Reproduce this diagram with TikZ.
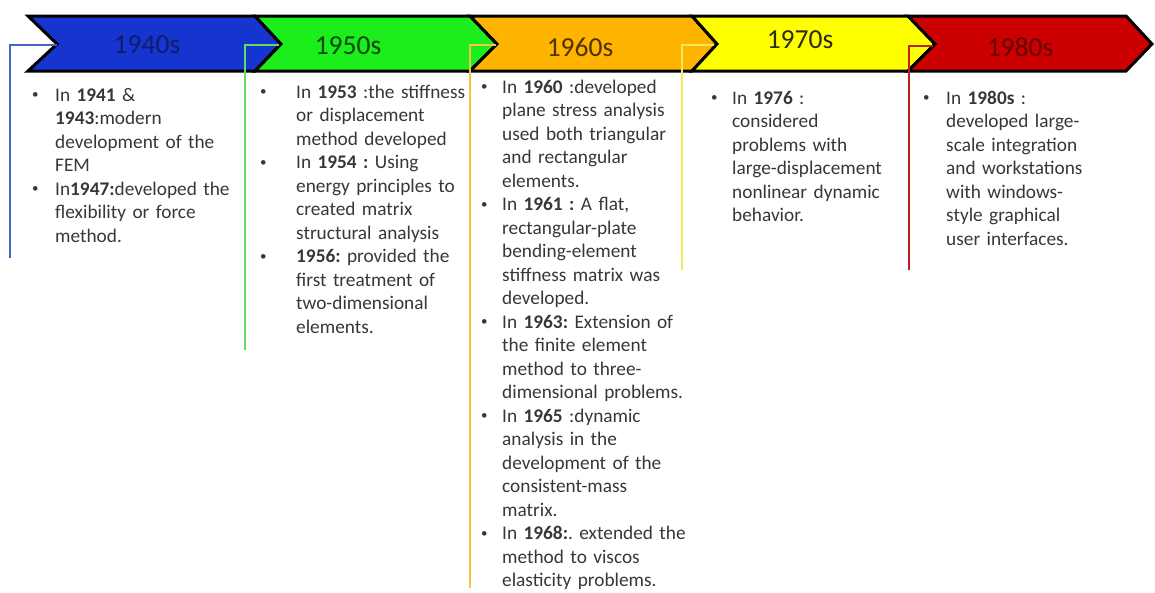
\documentclass[tikz,border=0pt]{standalone}
\usepackage{fontspec}
\setmainfont{Carlito}
\frenchspacing
\definecolor{cblue}{RGB}{22,52,206}
\definecolor{cgreen}{RGB}{28,238,28}
\definecolor{corange}{RGB}{255,180,0}
\definecolor{cyellow}{RGB}{255,255,0}
\definecolor{cred}{RGB}{204,0,0}
\definecolor{lblue}{RGB}{70,100,200}
\definecolor{lgreen}{RGB}{100,220,100}
\definecolor{lorange}{RGB}{245,195,70}
\definecolor{lyellow}{RGB}{240,235,90}
\definecolor{lred}{RGB}{190,30,30}
\definecolor{tblue}{RGB}{16,28,110}
\definecolor{tgreen}{RGB}{10,70,10}
\definecolor{torange}{RGB}{80,50,0}
\definecolor{tyellow}{RGB}{45,45,20}
\definecolor{tred}{RGB}{100,0,0}
\definecolor{bodygray}{RGB}{55,55,55}
\tikzset{
  band/.style={draw=black, line width=3pt, line join=miter},
  head/.style={font=\fontsize{27.5}{33}\selectfont, anchor=center, inner sep=0pt},
  body/.style={font=\frenchspacing\fontsize{19.3}{23.5}\selectfont, text=bodygray, anchor=base west,
               inner sep=0pt, text width=260pt, align=left},
  dot/.style={font=\fontsize{13}{13}\selectfont, text=bodygray, anchor=base west, inner sep=0pt},
  hook/.style={line width=2pt},
}
\newcommand{\bul}{\raisebox{2.2pt}{\textbullet}}
\begin{document}
\begin{tikzpicture}[x=1pt,y=-1pt]
\useasboundingbox (0,0) rectangle (1155,592);
% chevron band
\path[band, fill=cblue]   (28,16)   -- (255,16)  -- (281,44)  -- (255,71)  -- (28,71)   -- (57,44)  -- cycle;
\path[band, fill=cgreen]  (255,16)  -- (470,16)  -- (497,44)  -- (470,71)  -- (255,71)  -- (281,44) -- cycle;
\path[band, fill=corange] (470,16)  -- (692,16)  -- (717,44)  -- (692,71)  -- (470,71)  -- (497,44) -- cycle;
\path[band, fill=cyellow] (692,16)  -- (908,16)  -- (935,44)  -- (908,71)  -- (692,71)  -- (717,44) -- cycle;
\path[band, fill=cred]    (908,16)  -- (1126,16) -- (1152,44) -- (1126,71) -- (908,71)  -- (935,44) -- cycle;
% headings
\node[head, text=tblue]   (h40) at (147,45) {1940s};
\node[head, text=tgreen]  (h50) at (348,46) {1950s};
\node[head, text=torange] (h60) at (580,47) {1960s};
\node[head, text=tyellow] (h70) at (800,40) {1970s};
\node[head, text=tred]    (h80) at (1020,47) {1980s};
% hook connectors
\coordinate (n40) at (57,45);   \coordinate (e40) at (10,258);
\coordinate (n50) at (279,45);  \coordinate (e50) at (245,350);
\coordinate (n60) at (496,45);  \coordinate (e60) at (470,588);
\coordinate (n70) at (714,45);  \coordinate (e70) at (682,270);
\coordinate (n80) at (933,46);  \coordinate (e80) at (909,270);
\draw[hook, lblue]   (n40) -| (e40);
\draw[hook, lgreen]  (n50) -| (e50);
\draw[hook, lorange] (n60) -| (e60);
\draw[hook, lyellow] (n70) -| (e70);
\draw[hook, lred]    (n80) -| (e80);
% column 1940s
\node[dot] (b41) at (32,101) {\bul};
\node[body] (t41) at (55,101) {In \textbf{1941} \&\\\textbf{1943}:modern\\development of the\\FEM};
\node[dot] (b47) at (32,195) {\bul};
\node[body] (t47) at (55,195) {In\textbf{1947:}developed the\\flexibility or force\\method.};
% column 1950s
\node[dot] (b53) at (260,98) {\bul};
\node[body] (t53) at (296,98) {In \textbf{1953} :the stiffness\\or displacement\\method developed};
\node[dot] (b54) at (260,168.5) {\bul};
\node[body] (t54) at (296,168.5) {In \textbf{1954 :} Using\\energy principles to\\created matrix\\structural analysis};
\node[dot] (b56) at (260,262.5) {\bul};
\node[body] (t56) at (296,262.5) {\textbf{1956:} provided the\\first treatment of\\two-dimensional\\elements.};
% column 1960s
\node[dot] (b60) at (481,93) {\bul};
\node[body] (t60) at (502,93) {In \textbf{1960} :developed\\plane stress analysis\\used both triangular\\and rectangular\\elements.};
\node[dot] (b61) at (481,210.5) {\bul};
\node[body] (t61) at (502,210.5) {In \textbf{1961 :} A flat,\\rectangular-plate\\bending-element\\stiffness matrix was\\developed.};
\node[dot] (b63) at (481,328) {\bul};
\node[body] (t63) at (502,328) {In \textbf{1963:} Extension of\\the finite element\\method to three-\\dimensional problems.};
\node[dot] (b65) at (481,422) {\bul};
\node[body] (t65) at (502,422) {In \textbf{1965} :dynamic\\analysis in the\\development of the\\consistent-mass\\matrix.};
\node[dot] (b68) at (481,539.5) {\bul};
\node[body] (t68) at (502,539.5) {In \textbf{1968:}. extended the\\method to viscos\\elasticity problems.};
% column 1970s
\node[dot] (b76) at (711,104) {\bul};
\node[body] (t76) at (732,104) {In \textbf{1976} :\\considered\\problems with\\large-displacement\\nonlinear dynamic\\behavior.};
% column 1980s
\node[dot] (b80) at (923,104) {\bul};
\node[body] (t80) at (946,104) {In \textbf{1980s} :\\developed large-\\scale integration\\and workstations\\with windows-\\style graphical\\user interfaces.};
\end{tikzpicture}
\end{document}
